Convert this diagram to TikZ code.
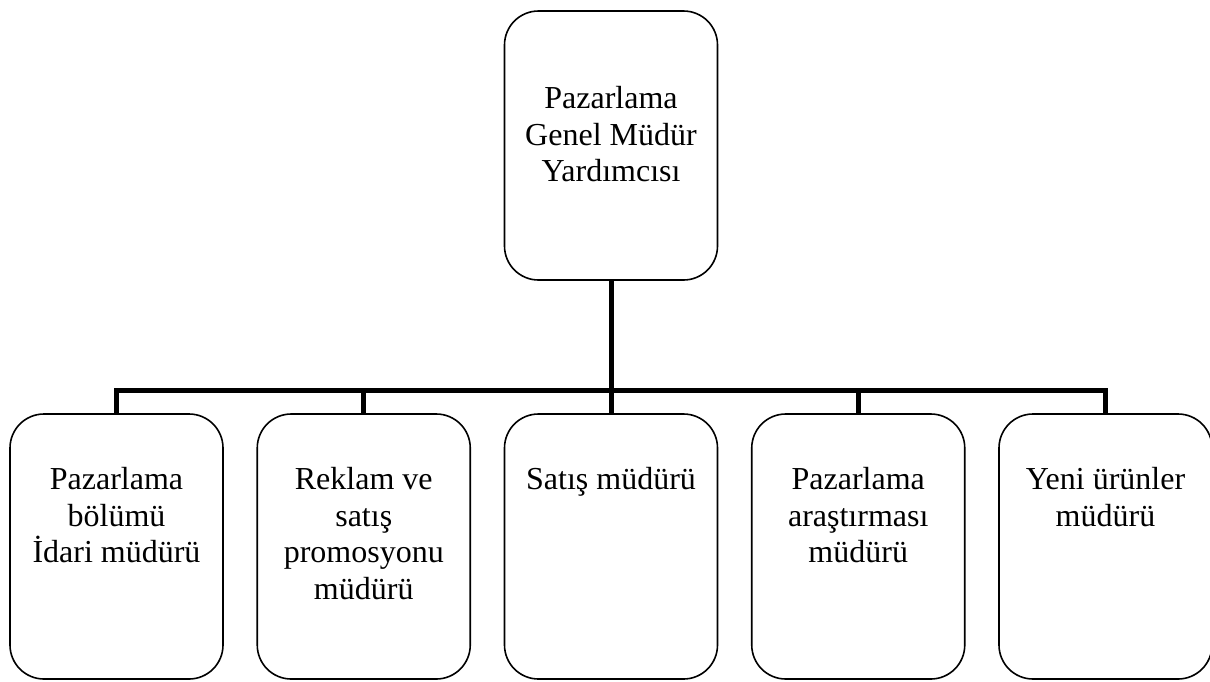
\documentclass[tikz,border=0pt]{standalone}
\usepackage{fontspec}
\setmainfont{Liberation Serif}
\usetikzlibrary{calc}
\begin{document}
\begin{tikzpicture}[x=1pt,y=-1pt,
  box/.style={draw, line width=1.6pt, rounded corners=34pt, inner sep=0pt,
              minimum width=213pt},
  txt/.style={align=center, inner sep=0pt, anchor=north,
              font=\fontsize{32}{36.5}\selectfont},
  bus/.style={line width=5pt, line join=miter, line cap=butt}]
\useasboundingbox (0,0) rectangle (1210,681);

% top manager
\node[box, minimum height=269pt] (top) at (611,145.5) {};
\node[txt] (ttop) at ($(top.north)+(0,76)$)
  {Pazarlama\\Genel Müdür\\Yardımcısı};

% department managers
\foreach \i/\x in {1/116.5, 2/363.75, 3/611, 4/858.25, 5/1105.5}
  \node[box, minimum height=265pt] (b\i) at (\x,546.5) {};

\node[txt] (t1) at ($(b1.north)+(0,54)$)
  {Pazarlama\\bölümü\\İdari müdürü};
\node[txt] (t2) at ($(b2.north)+(0,54)$)
  {Reklam ve\\satış\\promosyonu\\müdürü};
\node[txt] (t3) at ($(b3.north)+(0,54)$)
  {Satış müdürü};
\node[txt] (t4) at ($(b4.north)+(0,54)$)
  {Pazarlama\\araştırması\\müdürü};
\node[txt] (t5) at ($(b5.north)+(0,54)$)
  {Yeni ürünler\\müdürü};

% connectors
\coordinate (busy) at (0,390.5);
\draw[bus] (b1.north) -- (b1.north |- busy) -- (b5.north |- busy) -- (b5.north);
\draw[bus] (top.south) -- (b3.north);
\draw[bus] (b2.north) -- (b2.north |- busy);
\draw[bus] (b4.north) -- (b4.north |- busy);
\end{tikzpicture}
\end{document}
